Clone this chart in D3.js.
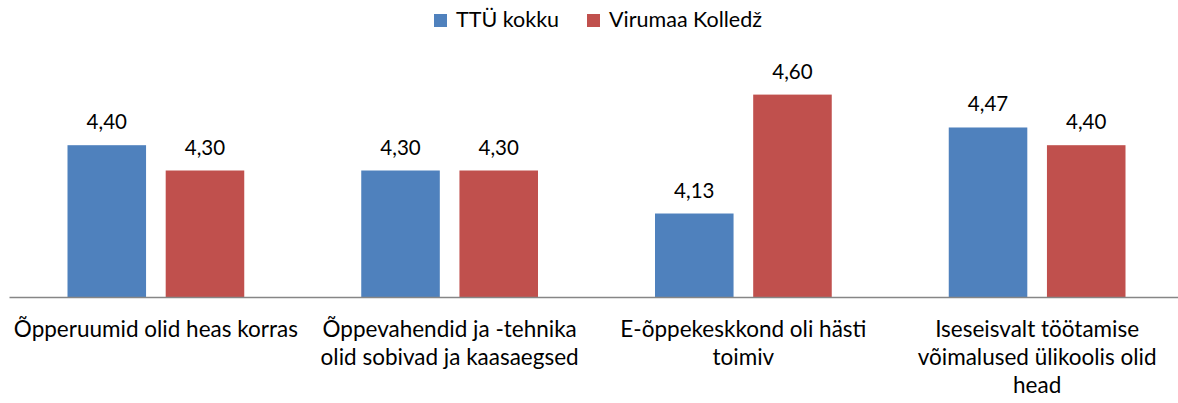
<!DOCTYPE html>
<html>
<head>
  <meta charset="utf-8" />
  <title>TTÜ kokku vs Virumaa Kolledž</title>
  <script src="https://d3js.org/d3.v7.min.js"></script>
  <style>
    body { margin: 0; background: #fff; }
    text { font-family: Lato, "Open Sans", sans-serif; fill: #000; }
  </style>
</head>
<body>
  <div id="chart"></div>
  <script>
    // data
    var categories = [
      "Õpperuumid olid heas korras",
      "Õppevahendid ja -tehnika olid sobivad ja kaasaegsed",
      "E-õppekeskkond oli hästi toimiv",
      "Iseseisvalt töötamise võimalused ülikoolis olid head"
    ];
    var seriesNames = ["TTÜ kokku", "Virumaa Kolledž"];
    var ttuValues = [4.40, 4.30, 4.13, 4.47];
    var virumaaValues = [4.30, 4.30, 4.60, 4.40];
    var colors = ["#4F81BD", "#C0504D"];

    var W = 1178, H = 403;
    var margin = { top: 44, right: -6, bottom: 106, left: 9 };
    var width = W - margin.left - margin.right,
        height = H - margin.top - margin.bottom;

    var svg = d3.select("#chart").append("svg")
      .attr("width", W)
      .attr("height", H);

    var g = svg.append("g")
      .attr("transform", "translate(" + margin.left + "," + margin.top + ")");

    var x0 = d3.scaleBand().domain(categories).range([0, width]).paddingInner(0).paddingOuter(0);
    var x1 = d3.scaleBand().domain(seriesNames).range([58.5, x0.bandwidth() - 58.5]).paddingInner(0.2);
    var y = d3.scaleLinear().domain([3.8, 4.8]).range([height, 0]);

    var rows = categories.map(function (c, i) {
      return { cat: c, vals: [
        { name: seriesNames[0], v: ttuValues[i], color: colors[0] },
        { name: seriesNames[1], v: virumaaValues[i], color: colors[1] }
      ] };
    });

    var groups = g.selectAll(".grp").data(rows).enter().append("g")
      .attr("class", "grp")
      .attr("transform", function (d) { return "translate(" + x0(d.cat) + ",0)"; });

    groups.selectAll("rect").data(function (d) { return d.vals; }).enter().append("rect")
      .attr("x", function (d) { return x1(d.name); })
      .attr("y", function (d) { return y(d.v); })
      .attr("width", x1.bandwidth())
      .attr("height", function (d) { return height - y(d.v); })
      .attr("fill", function (d) { return d.color; });

    groups.selectAll(".lbl").data(function (d) { return d.vals; }).enter().append("text")
      .attr("class", "lbl")
      .attr("x", function (d) { return x1(d.name) + x1.bandwidth() / 2; })
      .attr("y", function (d) { return y(d.v) - 16; })
      .attr("text-anchor", "middle")
      .style("font-size", "20.5px")
      .text(function (d) { return d3.format(".2f")(d.v).replace(".", ","); });

    // x axis
    var xAxis = g.append("g")
      .attr("transform", "translate(0," + height + ")")
      .call(d3.axisBottom(x0).tickSize(0).tickPadding(0));
    xAxis.select(".domain").attr("stroke", "#868686").attr("stroke-width", 1.3);
    xAxis.selectAll(".tick text").remove();

    // wrapped category labels
    var lineH = 28;
    xAxis.selectAll(".tick").append("text")
      .attr("text-anchor", "middle")
      .style("font-size", "22.5px")
      .each(function (d) {
        var t = d3.select(this);
        var words = d.split(" ");
        var line = [];
        var lineNo = 0;
        var tspan = t.append("tspan").attr("x", 0).attr("y", 40);
        words.forEach(function (w) {
          line.push(w);
          tspan.text(line.join(" "));
          if (tspan.node().getComputedTextLength() > 292 && line.length > 1) {
            line.pop();
            tspan.text(line.join(" "));
            line = [w];
            lineNo++;
            tspan = t.append("tspan").attr("x", 0).attr("y", 40 + lineNo * lineH).text(w);
          }
        });
      });

    // legend
    var legend = svg.append("g").attr("transform", "translate(434,14)");
    var lx = [0, 153];
    seriesNames.forEach(function (s, i) {
      var lg = legend.append("g").attr("transform", "translate(" + lx[i] + ",0)");
      lg.append("rect").attr("width", 13).attr("height", 13).attr("fill", colors[i]);
      lg.append("text").attr("x", 22).attr("y", 13).style("font-size", "21.5px").text(s);
    });
  </script>
</body>
</html>
